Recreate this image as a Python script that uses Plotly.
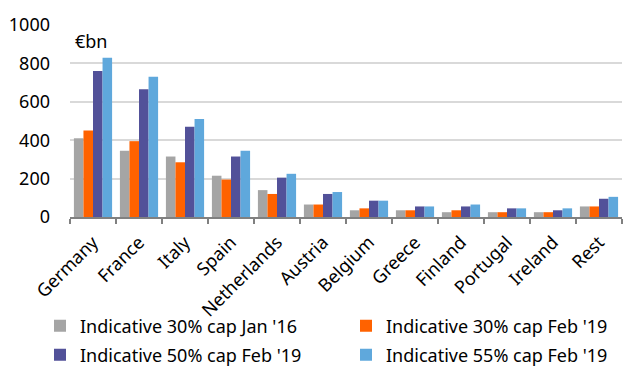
import plotly.graph_objects as go

countries = ["Germany", "France", "Italy", "Spain", "Netherlands", "Austria",
             "Belgium", "Greece", "Finland", "Portugal", "Ireland", "Rest"]
cap30_jan16 = [410, 345, 315, 215, 140, 65, 35, 35, 25, 25, 25, 55]
cap30_feb19 = [450, 395, 285, 195, 120, 65, 45, 35, 35, 25, 25, 55]
cap50_feb19 = [760, 665, 470, 315, 205, 120, 85, 55, 55, 45, 35, 95]
cap55_feb19 = [830, 730, 510, 345, 225, 130, 85, 55, 65, 45, 45, 105]

# (name, values, colour, legend id, legend x px, legend y px)
series = [
    ("Indicative 30% cap Jan '16", cap30_jan16, "#A5A5A5", "legend", 40, 326),
    ("Indicative 30% cap Feb '19", cap30_feb19, "#FF6200", "legend2", 346, 326),
    ("Indicative 50% cap Feb '19", cap50_feb19, "#525199", "legend3", 40, 355),
    ("Indicative 55% cap Feb '19", cap55_feb19, "#5FA8DC", "legend4", 346, 355),
]

W, H = 623, 367
FS = 18

fig = go.Figure()
legends = {}
for name, vals, color, leg, lx, ly in series:
    fig.add_trace(go.Bar(x=countries, y=vals, name=name, legend=leg,
                         marker=dict(color=color, line=dict(width=0))))
    legends[leg] = dict(orientation="h", xref="container", yref="container",
                        x=lx / W, y=1 - ly / H, xanchor="left", yanchor="middle",
                        font=dict(size=FS), itemwidth=30,
                        bgcolor="rgba(0,0,0,0)")

font = "Noto Sans, DejaVu Sans, sans-serif"
fig.update_layout(
    width=W, height=H,
    margin=dict(l=70, r=1, t=25, b=150, autoexpand=False),
    plot_bgcolor="white", paper_bgcolor="white",
    barmode="group", bargap=0.17, bargroupgap=0,
    font=dict(family=font, size=FS, color="#000000"),
    showlegend=True,
    annotations=[dict(text="€bn", xref="paper", yref="paper", x=0.005, y=0.99,
                      xanchor="left", yanchor="top", showarrow=False,
                      font=dict(size=FS))],
    **legends,
)
fig.update_yaxes(range=[0, 1000], dtick=200, showgrid=True, gridcolor="#D9D9D9",
                 gridwidth=1.5, zeroline=False, showline=False, ticks="",
                 ticklabelstandoff=19, tickfont=dict(size=FS))
fig.update_xaxes(showline=True, linecolor="#808080", linewidth=1.5,
                 ticks="outside", tickson="boundaries", ticklen=5, tickcolor="#808080",
                 tickwidth=1.5, tickangle=-45, ticklabelstandoff=6,
                 tickfont=dict(size=FS))
fig.write_html("out.html")
